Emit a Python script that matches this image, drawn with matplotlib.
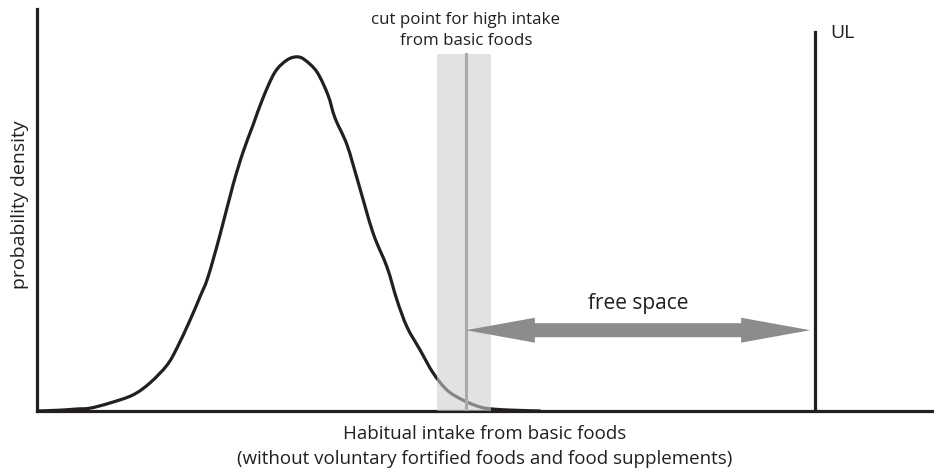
import numpy as np
import matplotlib.pyplot as plt
from matplotlib.patches import FancyArrow, PathPatch
from matplotlib.path import Path

# habitual intake (arbitrary units) and probability density
intake = [0.000, 0.256, 0.446, 0.591, 0.814, 1.070, 1.260, 1.449, 1.561, 1.706, 1.817, 1.906,
          2.040, 2.185, 2.297, 2.408, 2.520, 2.653, 2.787, 2.899, 2.988, 3.122, 3.244, 3.322,
          3.456, 3.579, 3.746, 3.902, 4.013, 4.125, 4.270, 4.415, 4.571, 4.749, 4.939, 5.072,
          5.307, 5.608]
density = [0.000, 0.002, 0.005, 0.007, 0.020, 0.040, 0.070, 0.114, 0.157, 0.226, 0.284, 0.333,
           0.438, 0.562, 0.644, 0.711, 0.779, 0.843, 0.873, 0.881, 0.873, 0.843, 0.786, 0.729,
           0.662, 0.570, 0.443, 0.358, 0.276, 0.209, 0.152, 0.095, 0.052, 0.027, 0.010, 0.005,
           0.002, 0.000]

cut_point = 4.78
cut_band = (4.46, 5.06)
band_top = 0.888
ul = 8.67
ul_top = 0.943
arrow_y = 0.201
arrow_end = 8.62

ink = '#231f20'
plt.rcParams['font.family'] = ['Open Sans', 'DejaVu Sans']


def smooth_path(xs, ys):
    # catmull-rom through the read points, drawn as cubic bezier segments
    p = np.column_stack([xs, ys])
    p = np.vstack([p[0], p, p[-1]])
    verts = [p[1]]
    codes = [Path.MOVETO]
    for i in range(1, len(p) - 2):
        c1 = p[i] + (p[i + 1] - p[i - 1]) / 6
        c2 = p[i + 1] - (p[i + 2] - p[i]) / 6
        verts += [c1, c2, p[i + 1]]
        codes += [Path.CURVE4] * 3
    return Path(verts, codes)


fig = plt.figure(figsize=(9.34, 4.73), dpi=100)
ax = fig.add_axes([37 / 934, 62 / 473, 1 - 37 / 934, 402 / 473])
ax.set_xlim(0, 10)
ax.set_ylim(0, 1)

ax.add_patch(PathPatch(smooth_path(intake, density), fill=False, edgecolor=ink, lw=2.3,
                       zorder=2, capstyle='round'))

# uncertainty band around the cut point, drawn over the curve so it turns grey
ax.fill_between(cut_band, 0, band_top, facecolor=(205/255, 206/255, 210/255), alpha=0.58,
                lw=0, zorder=3)
ax.plot([cut_point, cut_point], [0, band_top], color='#aaaaac', lw=2.2, zorder=4)

ax.plot([ul, ul], [0, ul_top], color=ink, lw=2.3, zorder=4)

# double arrow = free space
shaft = 0.035
head_w = 0.062
head_l = 0.77
mid = (cut_point + arrow_end) / 2
for start, end in [(mid, cut_point), (mid, arrow_end)]:
    ax.add_patch(FancyArrow(start, arrow_y, end - start, 0, width=shaft,
                            head_width=head_w, head_length=head_l,
                            length_includes_head=True, color='#8b8c8e', lw=0, zorder=5))

ax.text(cut_point, 0.947, 'cut point for high intake\nfrom basic foods', ha='center', va='center',
        fontsize=12.2, color=ink, linespacing=1.45, clip_on=False)
ax.text(mid, arrow_y + 0.04, 'free space', ha='center', va='bottom', fontsize=15, color=ink)
ax.text(ul + 0.17, 0.94, 'UL', ha='left', va='center', fontsize=14, color=ink)

ax.set_xticks([])
ax.set_yticks([])
for s in ['top', 'right']:
    ax.spines[s].set_visible(False)
for s in ['left', 'bottom']:
    ax.spines[s].set_linewidth(2.3)
    ax.spines[s].set_color(ink)

ax.set_ylabel('probability density', fontsize=14, color=ink)
ax.yaxis.set_label_coords(-(37 - 20) / 897, (411 - 205) / 402)
ax.yaxis.label.set_va('center')
ax.set_xlabel('Habitual intake from basic foods\n(without voluntary fortified foods and food supplements)',
              fontsize=13.5, color=ink, linespacing=1.5)
ax.xaxis.set_label_coords((485 - 37) / 897, -(446 - 411) / 402)
ax.xaxis.label.set_va('center')

fig.savefig('out.png', dpi=100)
